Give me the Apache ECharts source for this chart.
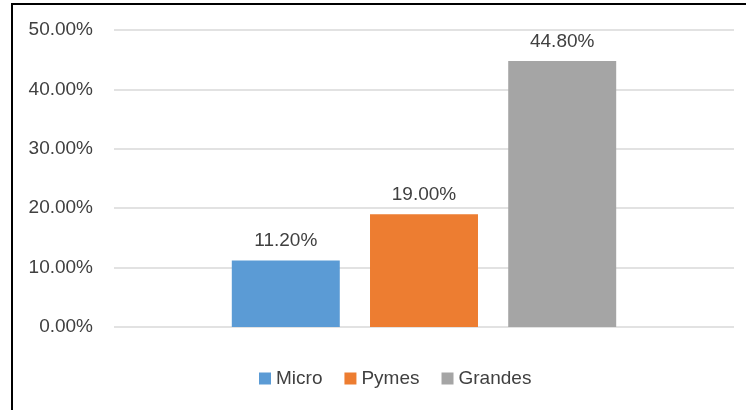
<!DOCTYPE html>
<html><head><meta charset="utf-8">
<script src="https://cdn.jsdelivr.net/npm/echarts@6/dist/echarts.min.js"></script>
<style>html,body{margin:0;padding:0;background:#fff}#c{width:746px;height:410px}</style>
</head><body><div id="c"></div>
<script>
var categories = [''];
var seriesNames = ['Micro', 'Pymes', 'Grandes'];
var microValues = [11.2];
var pymesValues = [19.0];
var grandesValues = [44.8];
var colors = ['#5B9BD5', '#ED7D31', '#A5A5A5'];
var font = '"Liberation Sans", Arial, sans-serif';
var textColor = '#404040';

var chart = echarts.init(document.getElementById('c'), null, {renderer: 'canvas'});
var valuesList = [microValues, pymesValues, grandesValues];
var series = seriesNames.map(function (n, i) {
  return {
    name: n, type: 'bar', data: valuesList[i],
    itemStyle: {color: colors[i]},
    barGap: '28%', barCategoryGap: '38%',
    label: {show: true, position: 'top', distance: 10, formatter: function (p) { return p.value.toFixed(2) + '%'; },
      color: textColor, fontFamily: font, fontSize: 19}
  };
});
chart.setOption({
  animation: false,
  grid: {left: 114, right: 12, top: 30, bottom: 83},
  legend: {bottom: 17, left: 254, itemWidth: 12, itemHeight: 12, itemGap: 22,
    icon: 'rect', textStyle: {color: textColor, fontFamily: font, fontSize: 19}, data: seriesNames},
  xAxis: {type: 'category', data: categories, axisLine: {show: false}, axisTick: {show: false}, axisLabel: {show: false}},
  yAxis: {type: 'value', min: 0, max: 50, interval: 10,
    axisLine: {show: false}, axisTick: {show: false},
    splitLine: {lineStyle: {color: '#D9D9D9', width: 1.5}},
    axisLabel: {margin: 21, color: textColor, fontFamily: font, fontSize: 19, formatter: function (v) { return v.toFixed(2) + '%'; }}},
  series: series,
  graphic: [{type: 'rect', shape: {x: 12, y: 4, width: 800, height: 500}, style: {fill: 'none', stroke: '#000', lineWidth: 2}, silent: true}]
});
</script></body></html>
